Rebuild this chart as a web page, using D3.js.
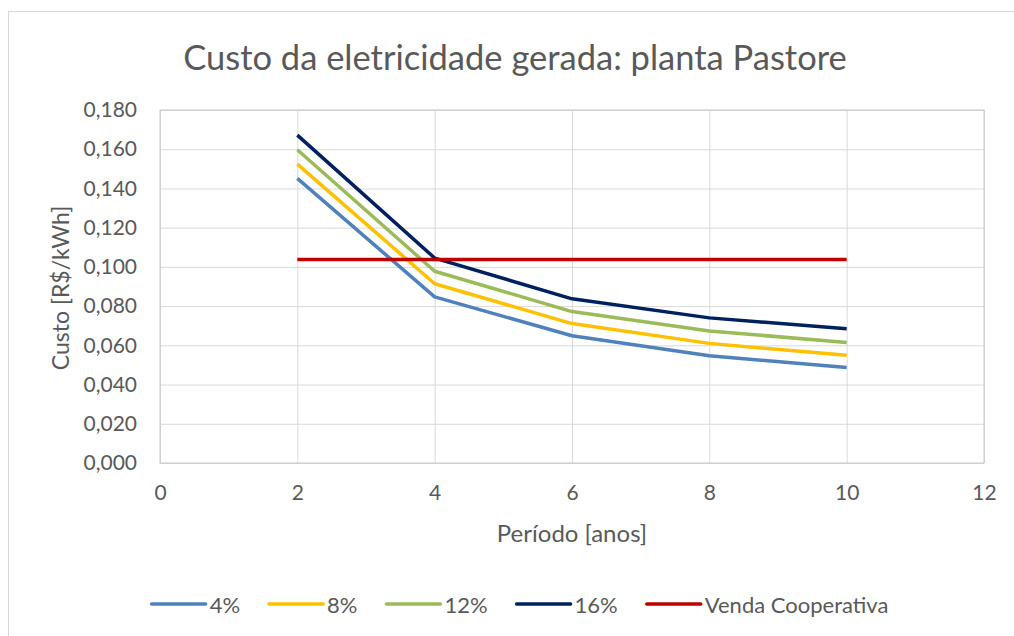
<!DOCTYPE html>
<html>
<head>
<meta charset="utf-8">
<script src="https://cdn.jsdelivr.net/npm/d3@7"></script>
<style>
  body { margin: 0; background: #fff; }
  svg { display: block; }
</style>
</head>
<body>
<svg id="chart" width="1014" height="636"></svg>
<script>
// dados
const periodos = [2, 4, 6, 8, 10]
const taxas = ['4%', '8%', '12%', '16%']
const custo4 = [0.1451, 0.0847, 0.0649, 0.0547, 0.0487]
const custo8 = [0.1524, 0.0914, 0.0711, 0.0610, 0.0549]
const custo12 = [0.1597, 0.0978, 0.0772, 0.0673, 0.0615]
const custo16 = [0.1672, 0.1045, 0.0837, 0.0740, 0.0685]
const vendaCooperativa = [0.1038, 0.1038, 0.1038, 0.1038, 0.1038]
const xTicks = [0, 2, 4, 6, 8, 10, 12]
const yTicks = [0, 0.02, 0.04, 0.06, 0.08, 0.10, 0.12, 0.14, 0.16, 0.18]

const POLICE = 'Lato, "Open Sans", sans-serif'
const COR_TEXTO = '#595959'
const COR_GRADE = '#d9d9d9'

const series = [
    { nome: taxas[0], valores: custo4, cor: '#4f81bd' },
    { nome: taxas[1], valores: custo8, cor: '#ffc000' },
    { nome: taxas[2], valores: custo12, cor: '#9bbb59' },
    { nome: taxas[3], valores: custo16, cor: '#002060' },
    { nome: 'Venda Cooperativa', valores: vendaCooperativa, cor: '#c00000' }
]

const svg = d3.select('#chart')

// borda externa
svg.append('rect').attr('x', 8.5).attr('y', 11.5).attr('width', 1020).attr('height', 640)
    .attr('fill', 'none').attr('stroke', COR_GRADE)

const area = { left: 160, right: 984, top: 110, bottom: 463 }
const x = d3.scaleLinear().domain([0, 12]).range([area.left, area.right])
const y = d3.scaleLinear().domain([0, 0.18]).range([area.bottom, area.top])

const fmt = d3.formatLocale({ decimal: ',', thousands: '.', grouping: [3], currency: ['R$', ''] }).format('.3f')

// grade horizontal + rótulos do eixo y
const gy = svg.append('g').attr('transform', 'translate(' + area.left + ',0)')
    .call(d3.axisLeft(y).tickValues(yTicks).tickFormat(fmt).tickSize(-(area.right - area.left)).tickPadding(23))
gy.select('.domain').remove()
gy.selectAll('line').attr('stroke', COR_GRADE).attr('stroke-width', 1)
gy.selectAll('text').attr('fill', COR_TEXTO).style('font-family', POLICE).style('font-size', '21px')

// grade vertical + rótulos do eixo x
const gx = svg.append('g').attr('transform', 'translate(0,' + area.bottom + ')')
    .call(d3.axisBottom(x).tickValues(xTicks).tickFormat(d => d).tickSize(-(area.bottom - area.top)).tickPadding(22))
gx.select('.domain').remove()
gx.selectAll('line').attr('stroke', COR_GRADE).attr('stroke-width', 1)
gx.selectAll('text').attr('fill', COR_TEXTO).style('font-family', POLICE).style('font-size', '21px')

// contorno da área do gráfico
svg.append('rect').attr('x', area.left).attr('y', area.top)
    .attr('width', area.right - area.left).attr('height', area.bottom - area.top)
    .attr('fill', 'none').attr('stroke', '#c8c8c8').attr('stroke-width', 1)

// linhas
const linha = d3.line().x((d, i) => x(periodos[i])).y(d => y(d))
svg.append('g').selectAll('path').data(series).join('path')
    .attr('d', d => linha(d.valores))
    .attr('fill', 'none').attr('stroke', d => d.cor).attr('stroke-width', 3.5)
    .attr('stroke-linejoin', 'round')

// título
svg.append('text').text('Custo da eletricidade gerada: planta Pastore')
    .attr('x', 515).attr('y', 70).attr('text-anchor', 'middle')
    .attr('fill', COR_TEXTO).style('font-family', POLICE).style('font-size', '34.5px')

// títulos dos eixos
svg.append('text').text('Período [anos]')
    .attr('x', 572).attr('y', 542).attr('text-anchor', 'middle')
    .attr('fill', COR_TEXTO).style('font-family', POLICE).style('font-size', '24px')

svg.append('text').text('Custo [R$/kWh]')
    .attr('transform', 'translate(69,288) rotate(-90)').attr('text-anchor', 'middle')
    .attr('fill', COR_TEXTO).style('font-family', POLICE).style('font-size', '23px')

// legenda
const leg = svg.append('g').attr('class', 'legenda')
let posX = 0
series.forEach(s => {
    const item = leg.append('g').attr('transform', 'translate(' + posX + ',0)')
    item.append('line').attr('x1', 0).attr('x2', 54).attr('y1', 0).attr('y2', 0)
        .attr('stroke', s.cor).attr('stroke-width', 3.5).attr('stroke-linecap', 'round')
    const t = item.append('text').text(s.nome).attr('x', 58).attr('y', 0)
        .attr('dominant-baseline', 'central')
        .attr('fill', COR_TEXTO).style('font-family', POLICE).style('font-size', '22px')
    posX += 58 + t.node().getComputedTextLength() + 29
})
const larguraLeg = posX - 29
leg.attr('transform', 'translate(' + (520 - larguraLeg / 2) + ',604)')
</script>
</body>
</html>
